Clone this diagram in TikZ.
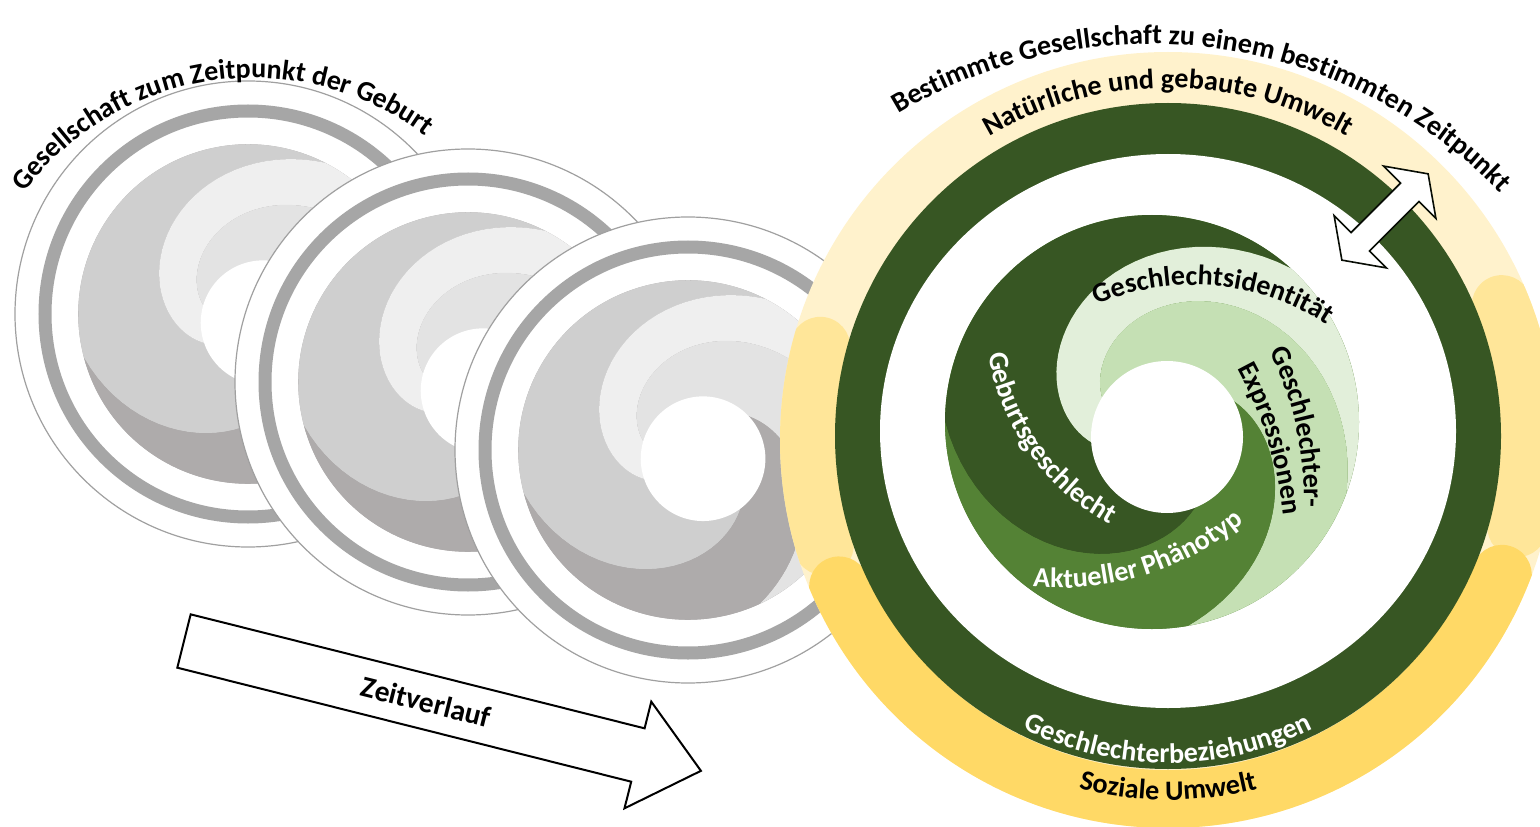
\documentclass[tikz,border=0pt]{standalone}
\usepackage{fontspec}
\setmainfont{Carlito}
\usetikzlibrary{decorations.text}

\definecolor{ringgreen}{HTML}{375623}
\definecolor{armdark}{HTML}{375623}
\definecolor{armmid}{HTML}{548235}
\definecolor{armlight}{HTML}{C5E0B4}
\definecolor{armpale}{HTML}{E2EFDA}
\definecolor{yelpale}{HTML}{FFF2CC}
\definecolor{yelmid}{HTML}{FFE699}
\definecolor{yelstrong}{HTML}{FFD966}
\definecolor{greydark}{HTML}{AEABAB}
\definecolor{greymid}{HTML}{CFCFCF}
\definecolor{greylight}{HTML}{E3E3E3}
\definecolor{greypale}{HTML}{EFEFEF}
\definecolor{discline}{HTML}{A0A0A0}
\definecolor{discband}{HTML}{A6A6A6}

\newcommand{\ringfont}{\fontsize{20}{24}\selectfont\bfseries}

% one arm: colour, outer curve (start, slope, length), inner curve (start, slope, length)
\newcommand{\swarm}[7]{%
  \fill[#1] (#5:207) arc[start angle=#5, end angle=#2, radius=207]
    -- plot[domain=0:#4, samples=45, variable=\sw] ({#2-\sw}:{207-#3*\sw})
    -- plot[domain=#7:0, samples=45, variable=\sw] ({#5-\sw}:{207-#6*\sw})
    -- cycle;}
% swirl round (0,0): dark, pale, light and mid arm
\newcommand{\swirl}[4]{%
  \fill[#4] (0,0) circle[radius=207];
  \swarm{#1}{180}{0.95}{176}{312}{0.95}{176}
  \swarm{#2}{312}{0.95}{176}{380}{0.87}{192}
  \swarm{#3}{20}{0.87}{192}{80}{1.3}{128}
  \swarm{#4}{80}{1.3}{128}{180}{0.95}{176}
  \fill[white] (15,15) circle[radius=76];}

\begin{document}
\begin{tikzpicture}[x=0.025cm, y=-0.025cm,
  ringtext/.style={decorate, decoration={text along path, text align=center, text color=black, text={|\ringfont|#1}}},
  ringtextw/.style={decorate, decoration={text along path, text align=center, text color=white, text={|\ringfont|#1}}},
  blockarrow/.style={fill=white, draw=black, line width=0.5mm, line join=miter},
  dblarrow/.style={fill=white, draw=black!85!ringgreen, line width=0.4mm, line join=miter}]
\useasboundingbox (0,0) rectangle (1540,827);

% earlier societies
\foreach \cx/\cy in {248/314, 468/382, 688/450} {
  \filldraw[fill=white, draw=discline, line width=0.3mm] (\cx,\cy) circle[radius=233];
  \draw[discband, line width=3.25mm] (\cx,\cy) circle[radius=203];
  \begin{scope}[shift={(\cx,\cy)}, scale=0.82, rotate=15]
    \swirl{greymid}{greypale}{greylight}{greydark}
  \end{scope}
}

% surroundings
\fill[yelpale] (1168,440) circle[radius=388];
\begin{scope}
  \clip (1168,440) circle[radius=388];
  \draw[yelmid, line width=15mm, line cap=round, shift={(1168,440)}] (163:360) arc[start angle=163, end angle=195, radius=360];
  \draw[yelmid, line width=15mm, line cap=round, shift={(1168,440)}] (338:360) arc[start angle=338, end angle=374, radius=360];
  \draw[yelstrong, line width=15mm, line cap=round, shift={(1168,440)}] (22:360) arc[start angle=22, end angle=156, radius=360];
\end{scope}
\fill[ringgreen] (1168,436) circle[radius=333];
\fill[white] (1168,431) ellipse[x radius=288, y radius=277];

\begin{scope}[shift={(1152,422)}]
  \swirl{armdark}{armpale}{armlight}{armmid}
\end{scope}

\begin{scope}[shift={(1385,217)}, rotate=45]
  \filldraw[dblarrow] (-61,0) -- (-35,-37) -- (-35,-13) -- (35,-13) -- (35,-37) -- (61,0)
    -- (35,37) -- (35,13) -- (-35,13) -- (-35,37) -- cycle;
\end{scope}

\begin{scope}[shift={(184,641)}, rotate=-14.1]
  \filldraw[blockarrow] (0,-27.5) -- (468,-27.5) -- (468,-55) -- (533,0) -- (468,55) -- (468,27.5) -- (0,27.5) -- cycle;
  \node[font=\fontsize{21}{25}\selectfont\bfseries, rotate=-14.1] (zeit) at (250,0) {Zeitverlauf};
\end{scope}

% labels
\path[ringtext={Gesellschaft zum Zeitpunkt der Geburt}, shift={(253,364)}] (202:286) arc[start angle=202, end angle=322, radius=286];
\path[ringtext={Bestimmte Gesellschaft zu einem bestimmten Zeitpunkt}, shift={(1150,530)}] (232:486) arc[start angle=232, end angle=323, radius=486];
\path[ringtext={Natürliche und gebaute Umwelt}, shift={(1168,440)}] (225:352) arc[start angle=225, end angle=315, radius=352];
\path[ringtext={Soziale Umwelt}, shift={(1168,440)}] (120:360) arc[start angle=120, end angle=60, radius=360];
\path[ringtextw={Geschlechterbeziehungen}, shift={(1168,440)}] (140:323) arc[start angle=140, end angle=40, radius=323];
\path[ringtext={Geschlechtsidentität}, shift={(1193,530)}] (230:245) arc[start angle=230, end angle=320, radius=245];
\path[ringtext={Geschlechter-}, shift={(987,496)}] (315:317) arc[start angle=315, end angle=380, radius=317];
\path[ringtext={Expressionen}, shift={(889,559)}] (320:397) arc[start angle=320, end angle=365, radius=397];
\path[ringtextw={Geburtsgeschlecht}, shift={(1223,315)}] (185:238) arc[start angle=185, end angle=104, radius=238];
\path[ringtextw={Aktueller Phänotyp}, shift={(1060,298)}] (110:290) arc[start angle=110, end angle=36, radius=290];
\end{tikzpicture}
\end{document}
